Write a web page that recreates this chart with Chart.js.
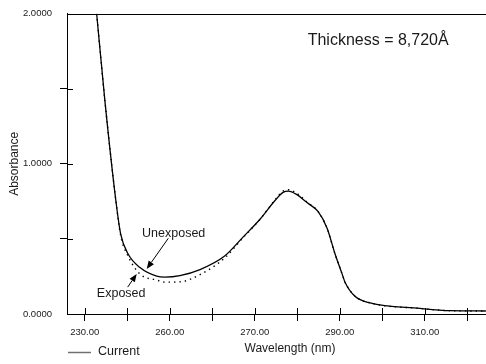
<!DOCTYPE html>
<html>
<head>
<meta charset="utf-8">
<script src="https://cdn.jsdelivr.net/npm/chart.js@4/dist/chart.umd.min.js"></script>
<style>
  html, body { margin: 0; padding: 0; background: #fff; }
  #wrap { width: 486px; height: 364px; }
</style>
</head>
<body>
<div id="wrap"><canvas id="chart" width="486" height="364"></canvas></div>
<script>
// UV absorbance spectra of the film, wavelength in nm
const wavelengths = [232.82, 234.78, 237.36, 238.47, 240.19, 243.01, 246.94, 248.89, 252.42, 257.13,
                     263.01, 267.25, 271.25, 274.78, 276.66, 277.91, 279.95, 282.31, 284.89, 287.01,
                     288.89, 290.54, 291.25, 293.60, 297.13, 308.90, 315.96, 324.40];
const currentAbs  = [2.000, 1.413, 0.749, 0.532, 0.401, 0.309, 0.252, 0.246, 0.256, 0.296,
                     0.388, 0.512, 0.631, 0.756, 0.810, 0.819, 0.795, 0.742, 0.683, 0.573,
                     0.401, 0.269, 0.212, 0.118, 0.074, 0.037, 0.022, 0.020];
const exposedAbs  = [2.000, 1.413, 0.749, 0.522, 0.386, 0.266, 0.226, 0.212, 0.214, 0.262,
                     0.375, 0.508, 0.631, 0.760, 0.818, 0.828, 0.803, 0.745, 0.683, 0.573,
                     0.401, 0.269, 0.212, 0.118, 0.074, 0.037, 0.022, 0.020];

const seriesNames = ['Current', 'Exposed'];

const xTickValues = [230, 240, 250, 260, 270, 280, 290, 300, 310, 320];
const xTickLabels = ['230.00', '', '260.00', '', '270.00', '', '290.00', '', '310.00', ''];
const yTickValues = [0, 0.5, 1, 1.5, 2];
const yTickLabels = ['0.0000', '', '1.0000', '', '2.0000'];

const xTitle = 'Wavelength (nm)';
const yTitle = 'Absorbance';
const thicknessNote = 'Thickness = 8,720\u00C5';

// callouts, anchored in data units (nm, absorbance)
const unexposedNote = { text: 'Unexposed', at: [250.94, 0.537], from: [249.67, 0.504], to: [244.59, 0.300] };
const exposedNote   = { text: 'Exposed',   at: [238.59, 0.136], from: [240.12, 0.179], to: [242.24, 0.267] };
const thicknessAt = [282.47, 1.818];

const FONT = '"Liberation Sans", Arial, Helvetica, sans-serif';
const INK = '#1a1a1a';

function seg(ctx, x1, y1, x2, y2) {
  ctx.beginPath(); ctx.moveTo(x1, y1); ctx.lineTo(x2, y2); ctx.stroke();
}

function arrow(ctx, x1, y1, x2, y2) {
  const ang = Math.atan2(y2 - y1, x2 - x1);
  const len = 8, half = 3.2;
  const bx = x2 - Math.cos(ang) * len, by = y2 - Math.sin(ang) * len;
  ctx.lineWidth = 1;
  seg(ctx, x1, y1, bx, by);
  ctx.beginPath();
  ctx.moveTo(x2, y2);
  ctx.lineTo(bx + Math.sin(ang) * half, by - Math.cos(ang) * half);
  ctx.lineTo(bx - Math.sin(ang) * half, by + Math.cos(ang) * half);
  ctx.closePath();
  ctx.fill();
}

const decorations = {
  id: 'decorations',
  afterDraw(chart) {
    const { ctx, chartArea: a, scales: { x, y } } = chart;
    ctx.save();
    ctx.strokeStyle = '#000';
    ctx.fillStyle = '#000';
    ctx.lineWidth = 1;

    // top frame line
    seg(ctx, a.left, Math.round(a.top) + 0.5, a.right, Math.round(a.top) + 0.5);

    // tick stubs reaching into the plot
    xTickValues.forEach(v => {
      const px = Math.round(x.getPixelForValue(v)) + 0.5;
      seg(ctx, px, a.bottom, px, a.bottom - 6);
    });
    yTickValues.filter(v => v > 0 && v < 2).forEach(v => {
      const py = Math.round(y.getPixelForValue(v)) + 0.5;
      seg(ctx, a.left, py, a.left + 6, py);
    });

    // callouts
    ctx.fillStyle = INK;
    ctx.textAlign = 'center';
    ctx.textBaseline = 'middle';
    ctx.font = '12.5px ' + FONT;
    [unexposedNote, exposedNote].forEach(n => {
      ctx.fillText(n.text, x.getPixelForValue(n.at[0]), y.getPixelForValue(n.at[1]));
      ctx.fillStyle = '#000';
      arrow(ctx, x.getPixelForValue(n.from[0]), y.getPixelForValue(n.from[1]),
                 x.getPixelForValue(n.to[0]), y.getPixelForValue(n.to[1]));
      ctx.fillStyle = INK;
    });

    ctx.font = '16px ' + FONT;
    ctx.textAlign = 'left';
    ctx.fillText(thicknessNote, x.getPixelForValue(thicknessAt[0]), y.getPixelForValue(thicknessAt[1]));

    // axis title under the tick labels
    ctx.font = '12px ' + FONT;
    ctx.textAlign = 'center';
    ctx.textBaseline = 'alphabetic';
    ctx.fillText(xTitle, 290, 352);

    // legend entry
    ctx.strokeStyle = '#707070';
    ctx.lineWidth = 1.5;
    seg(ctx, 68, 352.5, 91, 352.5);
    ctx.font = '12.5px ' + FONT;
    ctx.textAlign = 'left';
    ctx.fillText(seriesNames[0], 98, 355);

    ctx.restore();
  }
};

new Chart(document.getElementById('chart'), {
  type: 'line',
  data: {
    labels: wavelengths,
    datasets: [
      {
        label: seriesNames[0],
        data: wavelengths.map((w, i) => ({ x: w, y: currentAbs[i] })),
        borderColor: '#000',
        borderWidth: 1.3,
        pointRadius: 0,
        cubicInterpolationMode: 'monotone',
        fill: false
      },
      {
        label: seriesNames[1],
        data: wavelengths.map((w, i) => ({ x: w, y: exposedAbs[i] })),
        borderColor: '#000',
        borderWidth: 1.4,
        borderDash: [1.4, 4],
        pointRadius: 0,
        cubicInterpolationMode: 'monotone',
        fill: false
      }
    ]
  },
  options: {
    responsive: false,
    animation: false,
    devicePixelRatio: 1,
    layout: { padding: { top: 9.5, right: 0, bottom: 0, left: 0 } },
    plugins: { legend: { display: false }, tooltip: { enabled: false } },
    scales: {
      x: {
        type: 'linear',
        min: 225.84,
        max: 324.42,
        afterBuildTicks: s => { s.ticks = xTickValues.map(v => ({ value: v })); },
        afterFit: s => { s.height = 50; },
        ticks: {
          autoSkip: false,
          maxRotation: 0,
          padding: 6,
          color: INK,
          font: { family: FONT, size: 9.5 },
          callback: (v) => xTickLabels[xTickValues.indexOf(v)] ?? ''
        },
        grid: { drawOnChartArea: false, tickLength: 7, color: '#000', lineWidth: 1 },
        border: { display: true, color: '#000', width: 1 }
      },
      y: {
        type: 'linear',
        min: 0,
        max: 2,
        afterBuildTicks: s => { s.ticks = yTickValues.map(v => ({ value: v })); },
        afterFit: s => { s.width = 67; },
        ticks: {
          autoSkip: false,
          padding: 8,
          color: INK,
          font: { family: FONT, size: 9.5 },
          callback: (v) => yTickLabels[yTickValues.indexOf(v)] ?? ''
        },
        grid: {
          drawOnChartArea: false,
          tickLength: 7,
          lineWidth: 1,
          color: c => (c.tick && (c.tick.value === 0 || c.tick.value === 2)) ? 'rgba(0,0,0,0)' : '#000'
        },
        border: { display: true, color: '#000', width: 1 },
        title: {
          display: true,
          text: yTitle,
          color: INK,
          font: { family: FONT, size: 12 },
          padding: { top: 7, bottom: 0 }
        }
      }
    }
  },
  plugins: [decorations]
});
</script>
</body>
</html>
